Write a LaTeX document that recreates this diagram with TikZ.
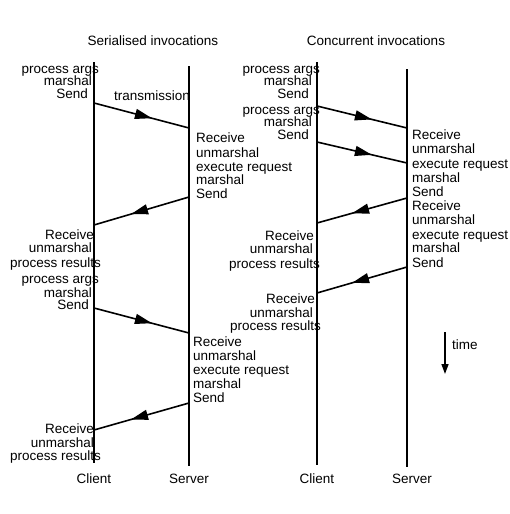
\documentclass[tikz,border=0pt]{standalone}
\usepackage{fontspec}
\setmainfont{Liberation Sans}
\usetikzlibrary{arrows.meta,decorations.markings}
\begin{document}
\begin{tikzpicture}[x=1pt,y=-1pt,line join=round,font=\fontsize{13.5}{15}\selectfont,
  life/.style={line width=1.8pt},
  msg/.style={line width=1.6pt,postaction={decorate},
    decoration={markings,mark=at position .61 with {\arrow{Triangle[length=17pt,width=10pt]}}}},
  lr/.style={anchor=base east,inner sep=0pt},
  ll/.style={anchor=base west,inner sep=0pt},
  ttl/.style={anchor=base,inner sep=0pt}]
\useasboundingbox (0,0) rectangle (509,514);
% titles
\node[ttl] (tser) at (153,45) {Serialised invocations};
\node[ttl] (tcon) at (376,45) {Concurrent invocations};
% lifelines
\coordinate (cl1t) at (94,62);  \coordinate (cl1b) at (94,463);
\coordinate (sv1t) at (189,66); \coordinate (sv1b) at (189,466);
\coordinate (cl2t) at (317,62); \coordinate (cl2b) at (317,465);
\coordinate (sv2t) at (407,69); \coordinate (sv2b) at (407,467);
\draw[life] (cl1t)--(cl1b) (sv1t)--(sv1b) (cl2t)--(cl2b) (sv2t)--(sv2b);
\node[ttl] (ncl1) at (94,483) {Client};
\node[ttl] (nsv1) at (189,483) {Server};
\node[ttl] (ncl2) at (317,483) {Client};
\node[ttl] (nsv2) at (412,483) {Server};
% serialised: messages
\coordinate (a1) at (94,103);  \coordinate (b1) at (189,128);
\coordinate (b2) at (189,197); \coordinate (a2) at (94,225);
\coordinate (a3) at (94,308);  \coordinate (b3) at (189,333);
\coordinate (b4) at (189,403); \coordinate (a4) at (94,430);
\draw[msg] (a1)--(b1);
\draw[msg] (b2)--(a2);
\draw[msg] (a3)--(b3);
\draw[msg] (b4)--(a4);
\node[ll] (trans) at (114,100) {transmission};
\foreach \t/\x/\y [count=\i] in {process args/99/68,marshal/92/80,Send/88/93,
  Receive/94/234,unmarshal/92/247,process results/101/262,
  process args/99/278,marshal/92/292,Send/89/304,
  Receive/94/428,unmarshal/94/442,process results/101/455}
  \node[lr] (ca\i) at (\x,\y+5) {\t};
\foreach \t/\x/\y [count=\i] in {Receive/196/137,unmarshal/196/152,execute request/196/166,marshal/196/179,Send/196/193,
  Receive/193/341,unmarshal/193/355,execute request/193/369,marshal/193/383,Send/193/397}
  \node[ll] (sa\i) at (\x,\y+5) {\t};
% concurrent: messages
\coordinate (c1) at (317,106); \coordinate (d1) at (407,128);
\coordinate (c2) at (317,142); \coordinate (d2) at (407,163);
\coordinate (d3) at (407,198); \coordinate (c3) at (317,223);
\coordinate (d4) at (407,267); \coordinate (c4) at (317,293);
\draw[msg] (c1)--(d1);
\draw[msg] (c2)--(d2);
\draw[msg] (d3)--(c3);
\draw[msg] (d4)--(c4);
\foreach \t/\x/\y [count=\i] in {process args/320/68,marshal/312/80,Send/309/93,
  process args/320/109,marshal/312/121,Send/309/134,
  Receive/314/235,unmarshal/313/248,process results/320/263,
  Receive/315/298,unmarshal/313/312,process results/321/325}
  \node[lr] (cb\i) at (\x,\y+5) {\t};
\foreach \t/\y [count=\i] in {Receive/134,unmarshal/148,execute request/163,marshal/177,Send/191,
  Receive/205,unmarshal/219,execute request/234,marshal/247,Send/262}
  \node[ll] (sb\i) at (412,\y+5) {\t};
% time
\coordinate (t1) at (445,332); \coordinate (t2) at (445,374);
\draw[line width=1.5pt,-{Triangle[length=10pt,width=7pt]}] (t1)--(t2);
\node[ll] (ntime) at (452,349) {time};
\end{tikzpicture}
\end{document}
